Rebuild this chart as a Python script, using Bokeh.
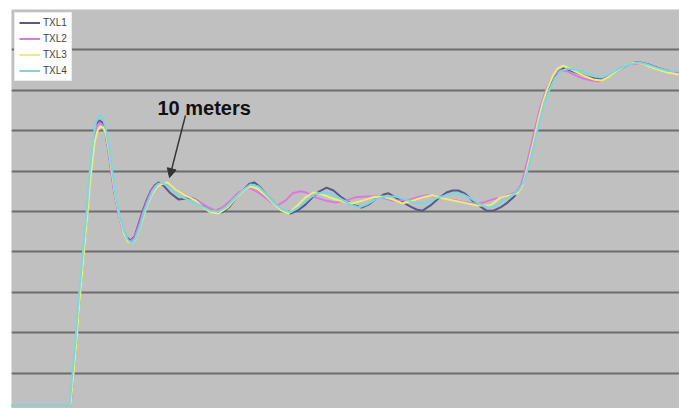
from bokeh.plotting import figure
from bokeh.models import Range1d, FixedTicker, Legend, LegendItem, Arrow, NormalHead, Label
from bokeh.embed import file_html
from bokeh.resources import INLINE

# ---- data (time in arbitrary units, level in grid divisions) ----
txl1_x = [11, 70, 73, 76, 79, 83, 87, 90, 94, 96, 99, 102, 105, 108, 111, 114, 118, 122, 126, 130,
          134, 138, 142, 146, 150, 154, 158, 163, 170, 178, 186, 193, 198, 204, 210, 216, 222, 229,
          236, 243, 249, 254, 259, 266, 274, 282, 290, 297, 305, 312, 319, 326, 333, 340, 347, 354,
          361, 368, 376, 383, 388, 395, 403, 410, 416, 422, 430, 438, 446, 452, 458, 464, 472, 480,
          486, 493, 500, 507, 513, 518, 523, 527, 531, 535, 539, 543, 548, 553, 558, 563, 570, 578,
          586, 594, 602, 610, 618, 626, 633, 640, 648, 657, 666, 679]
txl1_y = [0.20, 0.20, 0.99, 1.81, 2.80, 3.91, 5.02, 6.01, 6.96, 7.15, 7.25, 7.20, 6.96, 6.51, 5.97,
          5.47, 4.98, 4.58, 4.36, 4.28, 4.38, 4.68, 5.00, 5.27, 5.50, 5.64, 5.72, 5.64, 5.45, 5.30,
          5.32, 5.32, 5.25, 5.12, 5.05, 4.98, 4.98, 5.12, 5.35, 5.54, 5.69, 5.72, 5.62, 5.42, 5.20,
          5.02, 4.95, 5.02, 5.17, 5.35, 5.50, 5.59, 5.52, 5.37, 5.25, 5.15, 5.10, 5.17, 5.32, 5.42,
          5.45, 5.35, 5.22, 5.12, 5.05, 5.02, 5.15, 5.32, 5.47, 5.52, 5.52, 5.45, 5.27, 5.12, 5.02,
          5.02, 5.10, 5.22, 5.35, 5.52, 5.77, 6.11, 6.51, 6.93, 7.35, 7.72, 8.04, 8.29, 8.47, 8.54,
          8.49, 8.42, 8.34, 8.29, 8.27, 8.37, 8.51, 8.61, 8.69, 8.69, 8.64, 8.56, 8.49, 8.44]

txl2_x = [11, 70, 73, 76, 79, 83, 87, 90, 94, 96, 99, 102, 105, 108, 111, 114, 118, 122, 126, 130,
          134, 138, 142, 146, 150, 154, 158, 165, 172, 180, 190, 200, 208, 215, 222, 230, 238, 245,
          250, 258, 266, 272, 277, 285, 292, 300, 306, 315, 325, 335, 345, 355, 365, 377, 385, 392,
          400, 410, 420, 428, 438, 448, 457, 465, 475, 483, 492, 500, 508, 515, 520, 524, 528, 532,
          536, 540, 545, 550, 555, 560, 567, 575, 583, 591, 599, 607, 615, 623, 631, 639, 647, 656,
          666, 679]
txl2_y = [0.20, 0.20, 1.01, 1.86, 2.85, 3.94, 5.02, 5.97, 6.91, 7.10, 7.20, 7.15, 6.91, 6.46, 5.92,
          5.42, 4.93, 4.53, 4.31, 4.26, 4.36, 4.63, 4.95, 5.22, 5.47, 5.62, 5.69, 5.67, 5.57, 5.47,
          5.35, 5.22, 5.10, 5.02, 5.10, 5.27, 5.47, 5.57, 5.57, 5.47, 5.32, 5.20, 5.15, 5.27, 5.45,
          5.50, 5.47, 5.35, 5.27, 5.22, 5.27, 5.35, 5.37, 5.37, 5.32, 5.27, 5.27, 5.30, 5.37, 5.40,
          5.35, 5.30, 5.27, 5.22, 5.20, 5.22, 5.30, 5.35, 5.40, 5.47, 5.62, 5.97, 6.36, 6.78, 7.20,
          7.60, 7.97, 8.24, 8.42, 8.49, 8.47, 8.37, 8.29, 8.24, 8.22, 8.32, 8.47, 8.59, 8.66, 8.66,
          8.61, 8.54, 8.47, 8.42]

txl3_x = [11, 70, 73, 76, 79, 83, 87, 90, 94, 97, 100, 103, 106, 109, 112, 115, 119, 123, 127, 131,
          135, 139, 143, 147, 152, 157, 162, 167, 175, 185, 195, 203, 210, 218, 227, 235, 243, 250,
          257, 265, 273, 281, 288, 297, 305, 313, 322, 332, 342, 352, 362, 372, 382, 392, 402, 412,
          422, 432, 443, 453, 463, 477, 490, 500, 510, 517, 522, 526, 530, 534, 538, 542, 547, 552,
          557, 563, 569, 577, 585, 593, 601, 609, 617, 625, 633, 641, 649, 658, 667, 679]
txl3_y = [0.20, 0.20, 0.97, 1.76, 2.75, 3.84, 4.93, 5.82, 6.71, 7.00, 7.10, 7.08, 6.86, 6.41, 5.87,
          5.37, 4.88, 4.48, 4.26, 4.21, 4.31, 4.58, 4.88, 5.17, 5.45, 5.62, 5.69, 5.72, 5.54, 5.40,
          5.27, 5.10, 4.98, 4.95, 5.10, 5.32, 5.52, 5.62, 5.57, 5.40, 5.20, 5.02, 4.95, 5.15, 5.35,
          5.47, 5.42, 5.32, 5.25, 5.20, 5.27, 5.35, 5.37, 5.30, 5.20, 5.27, 5.35, 5.40, 5.32, 5.27,
          5.22, 5.15, 5.15, 5.35, 5.40, 5.45, 5.64, 6.01, 6.41, 6.83, 7.28, 7.67, 8.04, 8.34, 8.54,
          8.61, 8.54, 8.44, 8.34, 8.27, 8.24, 8.34, 8.49, 8.61, 8.69, 8.66, 8.59, 8.51, 8.44, 8.39]

txl4_x = [11, 69, 72, 75, 78, 82, 86, 89, 93, 96, 100, 103, 106, 109, 112, 115, 119, 123, 127, 131,
          135, 139, 143, 147, 152, 157, 162, 170, 180, 190, 200, 210, 218, 226, 234, 242, 250, 258,
          266, 274, 282, 290, 298, 306, 314, 322, 330, 340, 350, 358, 366, 375, 385, 395, 405, 415,
          425, 435, 445, 455, 463, 472, 480, 488, 496, 504, 512, 518, 524, 528, 532, 536, 540, 544,
          549, 554, 560, 567, 575, 583, 591, 599, 607, 615, 623, 631, 639, 647, 656, 666, 679]
txl4_y = [0.20, 0.20, 0.99, 1.81, 2.80, 3.89, 4.98, 5.92, 6.88, 7.28, 7.38, 7.28, 6.96, 6.51, 5.97,
          5.42, 4.90, 4.55, 4.31, 4.21, 4.33, 4.60, 4.93, 5.22, 5.50, 5.67, 5.72, 5.57, 5.37, 5.27,
          5.15, 5.02, 5.00, 5.12, 5.32, 5.52, 5.67, 5.62, 5.42, 5.20, 5.05, 4.98, 5.10, 5.27, 5.42,
          5.47, 5.45, 5.32, 5.17, 5.10, 5.17, 5.30, 5.37, 5.37, 5.30, 5.20, 5.20, 5.32, 5.40, 5.45,
          5.42, 5.30, 5.17, 5.10, 5.15, 5.30, 5.40, 5.52, 5.77, 6.11, 6.51, 6.93, 7.33, 7.70, 8.02,
          8.29, 8.47, 8.54, 8.51, 8.47, 8.39, 8.32, 8.37, 8.49, 8.59, 8.66, 8.69, 8.64, 8.56, 8.49,
          8.47]

series_names = ["TXL1", "TXL2", "TXL3", "TXL4"]
grid_levels = [1, 2, 3, 4, 5, 6, 7, 8, 9]
annotation_text = "10 meters"

# ---- figure ----
p = figure(width=679, height=408, output_backend="svg", toolbar_location=None,
           x_axis_location=None, y_axis_location=None,
           x_range=Range1d(11, 679), y_range=Range1d(0.124, 10.0),
           min_border_left=11, min_border_top=9, min_border_right=0, min_border_bottom=0)
p.background_fill_color = "#c0c0c0"
p.border_fill_color = "white"
p.outline_line_color = None
p.xgrid.visible = False
p.ygrid.ticker = FixedTicker(ticks=grid_levels)
p.ygrid.grid_line_color = "#6c6c6c"
p.ygrid.grid_line_width = 2

colors = ["#58588a", "#dc78dc", "#ecec78", "#78d8e0"]
xs = [txl1_x, txl2_x, txl3_x, txl4_x]
ys = [txl1_y, txl2_y, txl3_y, txl4_y]
renderers = []
for x, y, c in zip(xs, ys, colors):
    r = p.line(x, y, line_color=c, line_width=2, line_join="round")
    renderers.append(r)

legend = Legend(items=[LegendItem(label=n, renderers=[r]) for n, r in zip(series_names, renderers)],
                location="top_left", margin=3, padding=4, spacing=5,
                glyph_width=21, glyph_height=11, label_height=11, label_standoff=3,
                label_text_font="Liberation Sans", label_text_font_size="10px",
                label_text_color="#444444",
                border_line_color="#d8d8d8", border_line_width=1,
                background_fill_color="white", background_fill_alpha=1.0)
p.add_layout(legend)

p.add_layout(Label(x=157, y=7.55, text=annotation_text, text_font="Liberation Sans",
                   text_font_style="bold", text_font_size="20px", text_color="#111111",
                   text_baseline="alphabetic"))
p.add_layout(Arrow(end=NormalHead(size=9, fill_color="#333333", line_color="#333333"),
                   x_start=185, y_start=7.38, x_end=169, y_end=5.84,
                   line_color="#333333", line_width=1.5))

open("out.html", "w").write(file_html(p, INLINE))
